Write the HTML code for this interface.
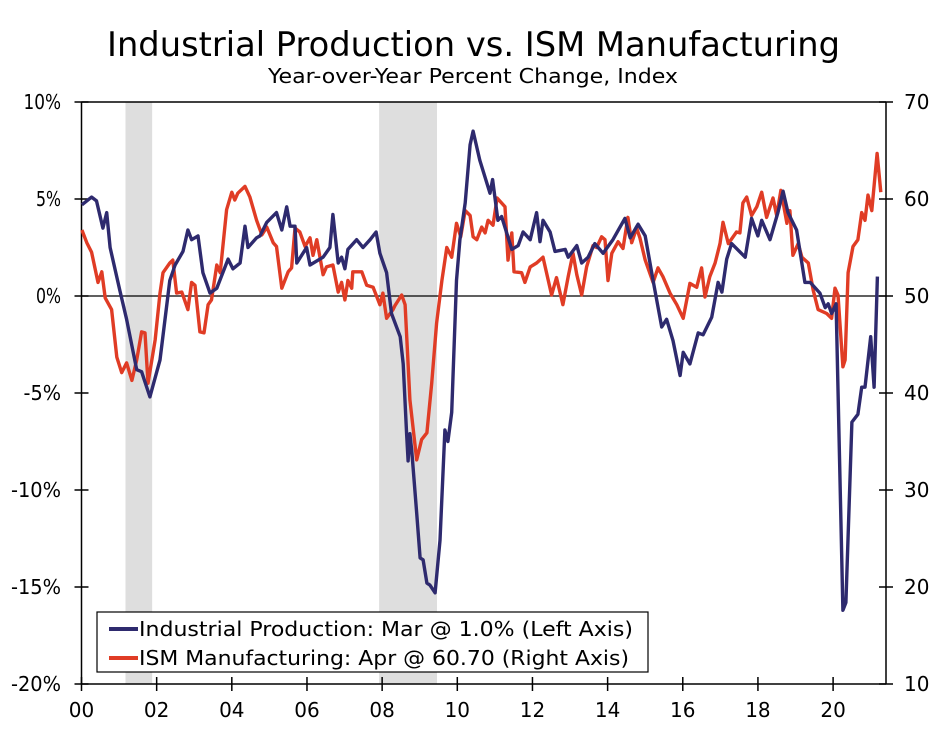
<!DOCTYPE html>
<html><head><meta charset="utf-8"><style>
html,body{margin:0;padding:0;background:#fff;}
svg text{font-family:"DejaVu Sans","Liberation Sans",sans-serif;fill:#000;}
</style></head><body>
<svg id="chart" width="947" height="727" viewBox="0 0 947 727" xmlns="http://www.w3.org/2000/svg">
<text x="107" y="56" font-size="34" textLength="733" lengthAdjust="spacingAndGlyphs">Industrial Production vs. ISM Manufacturing</text>
<text x="268" y="83" font-size="20" textLength="410" lengthAdjust="spacingAndGlyphs">Year-over-Year Percent Change, Index</text>
<g id="shade"></g>
<g id="axes"></g>
<g id="lines"></g>
<g>
<rect x="97" y="612" width="551" height="60" fill="#fff" stroke="#000" stroke-width="1.2"/>
<line x1="109" y1="629" x2="138" y2="629" stroke="#2e2a6e" stroke-width="4"/>
<text x="139" y="636" font-size="20" textLength="494" lengthAdjust="spacingAndGlyphs">Industrial Production: Mar @ 1.0% (Left Axis)</text>
<line x1="109" y1="658" x2="138" y2="658" stroke="#e03c25" stroke-width="4"/>
<text x="139" y="665" font-size="20" textLength="490" lengthAdjust="spacingAndGlyphs">ISM Manufacturing: Apr @ 60.70 (Right Axis)</text>
</g>
</svg>
<script>
const recessionStarts=[2001.17,2007.92];
const recessionEnds=[2001.88,2009.46];
const leftTicks=[10,5,0,-5,-10,-15,-20];
const leftTickLabels=["10%","5%","0%","-5%","-10%","-15%","-20%"];
const rightTicks=[70,60,50,40,30,20,10];
const xTicks=[2000,2002,2004,2006,2008,2010,2012,2014,2016,2018,2020];
const xTickLabels=["00","02","04","06","08","10","12","14","16","18","20"];
const ipDates=[2000.01,2000.27,2000.40,2000.57,2000.67,2000.76,2001.02,2001.20,2001.47,2001.60,2001.82,2002.09,2002.35,2002.49,2002.70,2002.83,2002.93,2003.10,2003.23,2003.42,2003.60,2003.90,2004.03,2004.22,2004.35,2004.43,2004.66,2004.75,2004.93,2005.19,2005.33,2005.46,2005.55,2005.68,2005.73,2005.99,2006.08,2006.43,2006.61,2006.69,2006.83,2006.92,2007.01,2007.09,2007.32,2007.49,2007.68,2007.84,2007.94,2008.12,2008.25,2008.48,2008.56,2008.65,2008.69,2008.74,2008.79,2008.92,2009.01,2009.09,2009.19,2009.27,2009.41,2009.54,2009.67,2009.75,2009.85,2009.98,2010.07,2010.21,2010.34,2010.42,2010.60,2010.87,2010.94,2011.08,2011.18,2011.45,2011.62,2011.75,2011.94,2012.11,2012.20,2012.28,2012.47,2012.60,2012.87,2012.95,2013.18,2013.31,2013.48,2013.66,2013.88,2014.14,2014.46,2014.60,2014.81,2015.00,2015.21,2015.44,2015.57,2015.74,2015.93,2016.01,2016.19,2016.41,2016.54,2016.77,2016.94,2017.04,2017.17,2017.30,2017.66,2017.83,2018.00,2018.10,2018.32,2018.53,2018.67,2018.80,2019.03,2019.25,2019.39,2019.65,2019.79,2019.87,2019.96,2020.08,2020.26,2020.34,2020.50,2020.66,2020.76,2020.85,2021.00,2021.09,2021.18];
const ipValues=[4.7,5.1,4.9,3.5,4.3,2.5,0.3,-1.2,-3.8,-3.9,-5.2,-3.3,0.8,1.6,2.3,3.4,2.9,3.1,1.2,0.15,0.4,1.9,1.4,1.7,3.6,2.5,3.0,3.1,3.8,4.3,3.4,4.6,3.6,3.6,1.7,2.5,1.6,2.0,2.5,4.2,1.7,2.0,1.4,2.4,2.9,2.5,2.9,3.3,2.2,1.2,-0.9,-2.1,-3.5,-7.1,-8.5,-7.1,-8.0,-11.2,-13.5,-13.6,-14.8,-14.9,-15.3,-12.6,-6.9,-7.5,-6.0,0.8,2.9,4.8,7.8,8.5,7.0,5.3,6.0,3.9,4.1,2.4,2.6,3.3,2.9,4.3,2.8,3.9,3.3,2.3,2.4,2.0,2.6,1.7,2.0,2.7,2.2,2.9,4.0,3.0,3.7,3.1,0.8,-1.6,-1.2,-2.3,-4.1,-2.9,-3.5,-1.9,-2.0,-1.1,0.7,0.2,1.9,2.7,2.0,4.0,3.1,3.9,2.9,4.3,5.4,4.3,3.4,0.7,0.7,0.15,-0.6,-0.4,-0.9,-0.4,-16.2,-15.8,-6.5,-6.1,-4.7,-4.7,-2.1,-4.7,1.0];
const ismDates=[2000.01,2000.14,2000.27,2000.44,2000.54,2000.63,2000.80,2000.94,2001.07,2001.20,2001.34,2001.47,2001.60,2001.69,2001.77,2001.96,2002.09,2002.17,2002.35,2002.43,2002.53,2002.67,2002.83,2002.93,2003.02,2003.15,2003.26,2003.37,2003.46,2003.60,2003.69,2003.86,2004.00,2004.08,2004.16,2004.35,2004.48,2004.66,2004.80,2004.93,2005.10,2005.19,2005.33,2005.50,2005.59,2005.68,2005.81,2005.95,2006.08,2006.16,2006.26,2006.43,2006.52,2006.69,2006.83,2006.92,2007.01,2007.09,2007.19,2007.22,2007.46,2007.59,2007.76,2007.94,2008.02,2008.12,2008.29,2008.34,2008.52,2008.61,2008.74,2008.92,2009.05,2009.19,2009.32,2009.45,2009.59,2009.72,2009.85,2009.98,2010.09,2010.21,2010.34,2010.42,2010.52,2010.65,2010.74,2010.82,2010.95,2011.06,2011.27,2011.35,2011.45,2011.51,2011.71,2011.80,2011.94,2012.11,2012.28,2012.51,2012.64,2012.81,2012.95,2013.08,2013.18,2013.31,2013.44,2013.61,2013.71,2013.84,2013.93,2014.01,2014.11,2014.28,2014.41,2014.54,2014.64,2014.77,2014.86,2015.00,2015.21,2015.34,2015.47,2015.66,2015.84,2016.01,2016.19,2016.37,2016.50,2016.59,2016.72,2016.86,2016.99,2017.07,2017.21,2017.43,2017.52,2017.60,2017.70,2017.83,2017.97,2018.10,2018.23,2018.40,2018.50,2018.61,2018.77,2018.85,2018.93,2019.07,2019.17,2019.34,2019.47,2019.60,2019.83,2019.96,2020.05,2020.13,2020.26,2020.32,2020.40,2020.53,2020.66,2020.76,2020.85,2020.93,2021.03,2021.17,2021.27];
const ismValues=[56.8,55.5,54.5,51.4,52.5,49.8,48.6,43.7,42.1,43.1,41.3,43.4,46.3,46.2,41.0,45.5,50.3,52.4,53.4,53.7,50.3,50.4,48.6,51.4,51.1,46.3,46.2,49.1,49.6,53.2,52.4,58.9,60.7,59.9,60.6,61.3,60.2,57.8,56.3,57.1,55.5,55.1,50.8,52.5,52.9,57.0,56.6,55.1,56.0,54.2,55.8,52.2,53.0,53.2,50.4,51.4,49.6,51.6,50.8,52.5,52.5,51.1,50.9,49.1,50.3,47.7,48.6,49.0,50.1,49.1,39.3,33.1,35.2,35.9,41.0,47.2,51.6,55.0,54.0,57.5,56.1,58.8,58.3,56.1,55.8,57.1,56.5,57.8,57.3,60.1,59.2,53.7,56.5,52.5,52.4,51.4,53.0,53.4,54.0,50.1,51.9,49.1,52.0,54.4,52.2,50.1,53.0,55.2,55.0,56.1,55.8,51.6,54.4,55.6,54.9,58.1,55.5,57.0,56.0,53.7,51.4,52.9,52.0,50.3,49.1,47.7,51.3,50.9,52.9,49.9,52.0,53.4,55.4,57.6,55.4,56.6,56.5,59.6,60.2,58.3,59.2,60.7,58.1,60.1,58.3,60.9,57.5,58.8,54.2,55.4,54.0,53.4,50.6,48.6,48.2,47.7,50.8,50.1,42.7,43.4,52.4,55.1,55.8,58.6,57.8,60.4,58.8,64.7,60.7];

const NS='http://www.w3.org/2000/svg';
const X0=81.5, X1=886, YT=102, YB=684;
function xs(t){return X0+(t-2000)*37.58;}
function yl(v){return YB-(v+20)/30*(YB-YT);}
function yr(v){return YB-(v-10)/60*(YB-YT);}
function mk(tag,attrs,parent){const e=document.createElementNS(NS,tag);for(const k in attrs)e.setAttribute(k,attrs[k]);parent.appendChild(e);return e;}
const shade=document.getElementById('shade'),axes=document.getElementById('axes'),lines=document.getElementById('lines');
for(let i=0;i<recessionStarts.length;i++){
  const r=mk('rect',{x:xs(recessionStarts[i]),y:YT,width:xs(recessionEnds[i])-xs(recessionStarts[i]),height:YB-YT,fill:'#dedede'},shade);
  
  
}
let e;
e=mk('line',{x1:X0,y1:YT,x2:X1,y2:YT,stroke:'#000','stroke-width':1.5},axes);


e=mk('line',{x1:X0,y1:YT,x2:X0,y2:YB,stroke:'#000','stroke-width':1.5},axes);


e=mk('line',{x1:X1,y1:YT,x2:X1,y2:YB,stroke:'#000','stroke-width':1.5},axes);


e=mk('line',{x1:X0,y1:YB,x2:X1,y2:YB,stroke:'#000','stroke-width':1.5},axes);


e=mk('line',{x1:X0,y1:yl(0),x2:X1,y2:yl(0),stroke:'#000','stroke-width':1.2},axes);


leftTicks.forEach((v,i)=>{
  const y=yl(v);
  const t=mk('line',{x1:X0-7,y1:y,x2:X0+7,y2:y,stroke:'#000','stroke-width':1.5},axes);
  
  
  const lab=leftTickLabels[i];
  const l=mk('text',{x:61,y:y+7,'font-size':20,'text-anchor':'end',textLength:lab.length*12.5,lengthAdjust:'spacingAndGlyphs'},axes);
  l.textContent=lab;
  
  
});
rightTicks.forEach(v=>{
  const y=yr(v);
  const t=mk('line',{x1:X1-7,y1:y,x2:X1+7,y2:y,stroke:'#000','stroke-width':1.5},axes);
  
  
  const l=mk('text',{x:904,y:y+7,'font-size':20},axes);
  l.textContent=String(v);
  
  
});
xTicks.forEach((v,i)=>{
  const x=xs(v);
  const t=mk('line',{x1:x,y1:YB-7,x2:x,y2:YB+7,stroke:'#000','stroke-width':1.5},axes);
  
  
  const l=mk('text',{x:x,y:717,'font-size':20,'text-anchor':'middle'},axes);
  l.textContent=xTickLabels[i];
  
  
});
function pathOf(d,v,f){return d.map((t,i)=>(i?'L':'M')+xs(t).toFixed(1)+' '+f(v[i]).toFixed(1)).join(' ');}
const ism=mk('path',{d:pathOf(ismDates,ismValues,yr),fill:'none',stroke:'#e03c25','stroke-width':3.4,'stroke-linejoin':'round'},lines);


const ip=mk('path',{d:pathOf(ipDates,ipValues,yl),fill:'none',stroke:'#2e2a6e','stroke-width':3.4,'stroke-linejoin':'round'},lines);


</script>
</body></html>
